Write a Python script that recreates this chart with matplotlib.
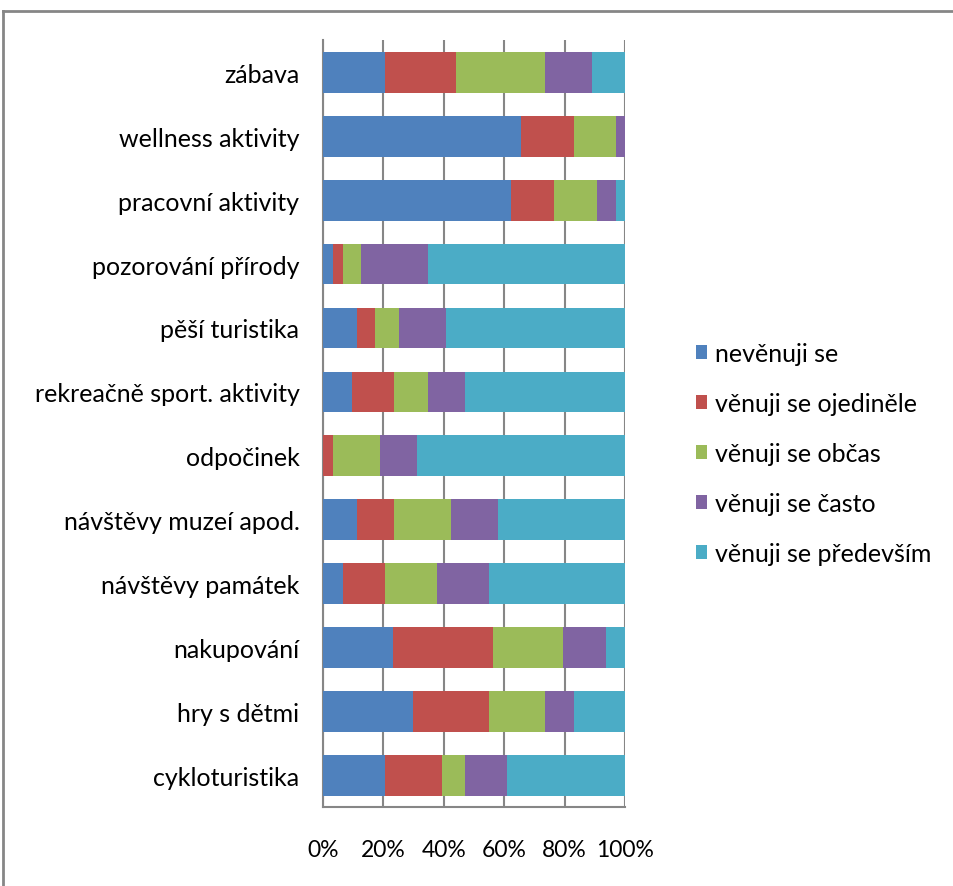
import matplotlib
matplotlib.use("Agg")
import matplotlib.pyplot as plt
from matplotlib.patches import Patch
from matplotlib.lines import Line2D
import numpy as np

categories = ["zábava", "wellness aktivity", "pracovní aktivity", "pozorování přírody",
              "pěší turistika", "rekreačně sport. aktivity", "odpočinek",
              "návštěvy muzeí apod.", "návštěvy památek", "nakupování", "hry s dětmi",
              "cykloturistika"]
series_names = ["nevěnuji se", "věnuji se ojediněle", "věnuji se občas",
                "věnuji se často", "věnuji se především"]
nevenuji = [20.5, 65.5, 62.4, 3.2, 11.1, 9.5, 0.0, 11.1, 6.5, 23.3, 29.9, 20.4]
ojedinele = [23.4, 17.5, 14.0, 3.3, 6.0, 13.9, 3.2, 12.3, 13.9, 32.9, 25.0, 18.9]
obcas = [29.5, 13.9, 14.2, 6.0, 8.0, 11.3, 15.6, 18.9, 17.2, 23.2, 18.5, 7.6]
casto = [15.6, 3.1, 6.3, 22.2, 15.5, 12.2, 12.2, 15.5, 17.3, 14.2, 9.6, 13.9]
predevsim = [11.0, 0.0, 3.1, 65.3, 59.4, 53.1, 69.0, 42.2, 45.1, 6.4, 17.0, 39.2]
tick_labels = ["0%", "20%", "40%", "60%", "80%", "100%"]

colors = ["#4F81BD", "#C0504D", "#9BBB59", "#8064A2", "#4BACC6"]
FONT = "Lato"

fig = plt.figure(figsize=(9.54, 8.87), dpi=100)
ax = fig.add_axes([323/954, 1-808.3/887, 302/954, (808.3-41.4)/887])

data = np.array([nevenuji, ojedinele, obcas, casto, predevsim])
data = data / data.sum(axis=0) * 100
y = np.arange(len(categories))
left = np.zeros(len(categories))
for vals, name, c in zip(data, series_names, colors):
    ax.barh(y, vals, left=left, height=0.637, color=c, label=name, zorder=3)
    left += vals

ax.set_xlim(0, 100)
ax.set_ylim(len(categories) - 0.5, -0.5)
ax.set_xticks(np.arange(0, 101, 20))
ax.set_xticklabels(tick_labels, fontsize=16.5, family=FONT)
ax.set_yticks(y)
ax.set_yticklabels(categories, fontsize=18, family=FONT)
ax.tick_params(axis="x", length=0, pad=23)
ax.tick_params(axis="y", length=0, pad=17)
ax.grid(axis="x", color="#868686", linewidth=1.5, zorder=0)
for s in ["top", "right"]:
    ax.spines[s].set_visible(False)
for s in ["left", "bottom"]:
    ax.spines[s].set_color("#868686")
    ax.spines[s].set_linewidth(1.5)

handles = [Patch(facecolor=c, edgecolor="none") for c in colors]
fig.legend(handles, series_names, loc="upper left", bbox_to_anchor=(696/954, 1-343/887),
           frameon=False, prop={"family": FONT, "size": 18}, handlelength=0.45,
           handleheight=0.45, handletextpad=0.3, labelspacing=1.08, borderaxespad=0,
           borderpad=0)

# outer chart border (top and left)
fig.add_artist(Line2D([3/954, 1], [1-12/887, 1-12/887], color="#868686", linewidth=2))
fig.add_artist(Line2D([3/954, 3/954], [0, 1-12/887], color="#868686", linewidth=2))

fig.savefig("out.png", dpi=100)
